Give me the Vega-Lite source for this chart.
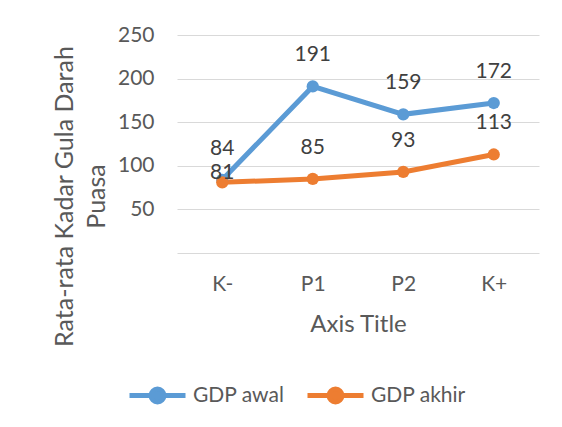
{
  "$schema": "https://vega.github.io/schema/vega-lite/v6.json",
  "width": 362,
  "height": 218,
  "autosize": {"type": "none"},
  "padding": {"left": 177, "top": 35, "right": 23, "bottom": 174},
  "background": "white",
  "config": {
    "font": "Lato",
    "view": {"stroke": null}
  },
  "data": {
    "values": [
      {"kelompok": "K-", "seri": "GDP awal", "nilai": 84},
      {"kelompok": "P1", "seri": "GDP awal", "nilai": 191},
      {"kelompok": "P2", "seri": "GDP awal", "nilai": 159},
      {"kelompok": "K+", "seri": "GDP awal", "nilai": 172},
      {"kelompok": "K-", "seri": "GDP akhir", "nilai": 81},
      {"kelompok": "P1", "seri": "GDP akhir", "nilai": 85},
      {"kelompok": "P2", "seri": "GDP akhir", "nilai": 93},
      {"kelompok": "K+", "seri": "GDP akhir", "nilai": 113}
    ]
  },
  "encoding": {
    "x": {
      "field": "kelompok",
      "type": "nominal",
      "sort": ["K-", "P1", "P2", "K+"],
      "scale": {"padding": 0.5},
      "axis": {
        "labelAngle": 0,
        "ticks": false,
        "domain": false,
        "labelPadding": 20,
        "labelFontSize": 21,
        "labelColor": "#595959",
        "title": "Axis Title",
        "titleFontSize": 24,
        "titleFontWeight": "normal",
        "titleColor": "#595959",
        "titleX": 181,
        "titleY": 71,
        "titleBaseline": "middle",
        "titleAlign": "center"
      }
    },
    "y": {
      "field": "nilai",
      "type": "quantitative",
      "scale": {"domain": [0, 250], "nice": false},
      "axis": {
        "values": [0, 50, 100, 150, 200, 250],
        "labelExpr": "datum.value == 0 ? '' : datum.label",
        "ticks": false,
        "domain": false,
        "gridColor": "#D9D9D9",
        "gridWidth": 1,
        "labelPadding": 23,
        "labelFontSize": 21,
        "labelColor": "#595959",
        "title": ["Rata-rata Kadar Gula Darah", "Puasa"],
        "titleFontSize": 25,
        "titleFontWeight": "normal",
        "titleColor": "#595959",
        "titleAngle": -90,
        "titleX": -113,
        "titleY": 161,
        "titleAlign": "center",
        "titleBaseline": "middle",
        "titleLineHeight": 32
      }
    },
    "color": {
      "field": "seri",
      "type": "nominal",
      "scale": {"domain": ["GDP awal", "GDP akhir"], "range": ["#5B9BD5", "#ED7D31"]},
      "legend": {
        "title": null,
        "orient": "none",
        "direction": "horizontal",
        "legendX": -50,
        "legendY": 330,
        "symbolType": "M -1 0 L 1 0 M 0.23 0 A 0.23 0.23 0 1 1 -0.23 0 A 0.23 0.23 0 1 1 0.23 0 Z",
        "symbolSize": 3136,
        "symbolStrokeWidth": 5,
        "labelFontSize": 21,
        "labelColor": "#595959",
        "labelOffset": 5,
        "columnPadding": 12,
        "encode": {
          "symbols": {
            "update": {
              "fill": {"scale": "color", "field": "value"},
              "stroke": {"scale": "color", "field": "value"},
              "strokeWidth": {"value": 5},
              "opacity": {"value": 1}
            }
          }
        }
      }
    }
  },
  "layer": [
    {"mark": {"type": "line", "strokeWidth": 5}},
    {"mark": {"type": "point", "filled": true, "size": 150, "opacity": 1}},
    {
      "transform": [{"filter": "!(datum.kelompok == 'K-' && datum.seri == 'GDP akhir')"}],
      "mark": {"type": "text", "dy": -31, "fontSize": 21, "baseline": "middle"},
      "encoding": {"text": {"field": "nilai", "type": "quantitative"}, "color": {"value": "#404040"}}
    },
    {
      "transform": [{"filter": "datum.kelompok == 'K-' && datum.seri == 'GDP akhir'"}],
      "mark": {"type": "text", "dy": -9, "fontSize": 21, "baseline": "middle"},
      "encoding": {"text": {"field": "nilai", "type": "quantitative"}, "color": {"value": "#404040"}}
    }
  ]
}
